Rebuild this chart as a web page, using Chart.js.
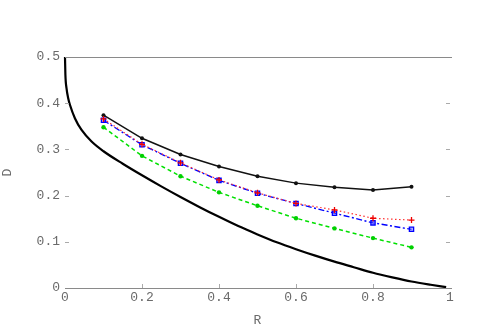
<!DOCTYPE html>
<html>
<head>
<meta charset="utf-8">
<script src="https://cdn.jsdelivr.net/npm/chart.js@4/dist/chart.umd.min.js"></script>
<style>
  html, body { margin: 0; padding: 0; background: #fff; }
  #wrap { width: 498px; height: 335px; position: relative; }
</style>
</head>
<body>
<div id="wrap"><canvas id="c" width="498" height="335"></canvas></div>
<script>
// ---- data ----
const R = [0.1, 0.2, 0.3, 0.4, 0.5, 0.6, 0.7, 0.8, 0.9];
const dBlack = [0.374, 0.324, 0.289, 0.263, 0.242, 0.227, 0.218, 0.212, 0.219];
const dRed   = [0.366, 0.311, 0.271, 0.234, 0.206, 0.183, 0.169, 0.151, 0.147];
const dBlue  = [0.363, 0.310, 0.270, 0.233, 0.205, 0.183, 0.162, 0.141, 0.127];
const dGreen = [0.348, 0.286, 0.242, 0.207, 0.178, 0.151, 0.129, 0.108, 0.088];

const curveR = [0, 0.001, 0.004, 0.008, 0.013, 0.026, 0.043, 0.069, 0.1, 0.15, 0.2, 0.25, 0.3, 0.35, 0.4, 0.45, 0.5, 0.55, 0.6, 0.65, 0.7, 0.75, 0.8, 0.85, 0.9, 0.95, 0.99];
const curveD = [0.5, 0.462, 0.432, 0.412, 0.396, 0.367, 0.342, 0.317, 0.296, 0.269, 0.244, 0.220, 0.197, 0.175, 0.154, 0.134, 0.116, 0.099, 0.084, 0.070, 0.057, 0.045, 0.033, 0.023, 0.014, 0.007, 0.002];

const xTicks = [0, 0.2, 0.4, 0.6, 0.8, 1];
const yTicks = [0, 0.1, 0.2, 0.3, 0.4, 0.5];
const xTitle = 'R';
const yTitle = 'D';

const pts = (xs, ys) => xs.map((x, i) => ({ x: x, y: ys[i] }));

const FONT = { family: '"Liberation Mono", "DejaVu Sans Mono", monospace', size: 13 };
const TXT = '#6a6a6a';
const AXIS = '#8a8a8a';

const frame = {
  id: 'frame',
  afterDatasetsDraw(chart) {
    const { ctx, chartArea: a, scales } = chart;
    ctx.save();
    ctx.strokeStyle = AXIS;
    ctx.lineWidth = 1;
    ctx.beginPath();
    ctx.moveTo(a.left, Math.round(a.top) + 0.5); ctx.lineTo(a.right + 2, Math.round(a.top) + 0.5);
    ctx.moveTo(a.left, Math.round(a.bottom) + 0.5); ctx.lineTo(a.right + 2, Math.round(a.bottom) + 0.5);
    ctx.stroke();
    ctx.strokeStyle = '#aaa';
    ctx.beginPath();
    yTicks.slice(1, -1).forEach(v => {
      const y = Math.round(scales.y.getPixelForValue(v)) + 0.5;
      ctx.moveTo(a.left, y); ctx.lineTo(a.left + 4, y);
      ctx.moveTo(a.right - 4, y); ctx.lineTo(a.right, y);
    });
    xTicks.slice(1, -1).forEach(v => {
      const x = Math.round(scales.x.getPixelForValue(v)) + 0.5;
      ctx.moveTo(x, a.bottom); ctx.lineTo(x, a.bottom - 4);
    });
    ctx.stroke();
    ctx.restore();
  }
};

new Chart(document.getElementById('c'), {
  type: 'line',
  data: {
    datasets: [
      { label: 'red', data: pts(R, dRed), borderColor: '#ff3030', borderWidth: 1.2, borderDash: [1.5, 2.5],
        pointStyle: 'cross', pointRadius: 3, pointBorderWidth: 1.3, pointBorderColor: '#ee0000', pointBackgroundColor: '#ee0000', tension: 0 },
      { label: 'blue', data: pts(R, dBlue), borderColor: '#0000ff', borderWidth: 1.4, borderDash: [6, 2.5, 2, 2.5],
        pointStyle: 'rect', pointRadius: 3, pointBorderWidth: 1.3, pointBorderColor: '#0000ff', pointBackgroundColor: 'rgba(90,90,255,0.45)', tension: 0 },
      { label: 'green', data: pts(R, dGreen), borderColor: '#00e000', borderWidth: 1.5, borderDash: [4, 3],
        pointStyle: 'circle', pointRadius: 2.2, pointBorderWidth: 0, pointBackgroundColor: '#00d000', tension: 0 },
      { label: 'black', data: pts(R, dBlack), borderColor: '#111', borderWidth: 1.5,
        pointStyle: 'circle', pointRadius: 2, pointBorderWidth: 0, pointBackgroundColor: '#111', tension: 0 },
      { label: 'bound', data: pts(curveR, curveD), borderColor: '#000', borderWidth: 2.2,
        pointRadius: 0, cubicInterpolationMode: 'monotone', clip: 3 }
    ]
  },
  options: {
    responsive: false,
    animation: false,
    events: [],
    layout: { padding: { top: 57, right: 48, left: 0, bottom: 0 } },
    plugins: { legend: { display: false }, tooltip: { enabled: false } },
    scales: {
      x: {
        type: 'linear', min: 0, max: 1,
        afterBuildTicks: s => { s.ticks = xTicks.map(v => ({ value: v })); },
        afterFit: s => { s.height = 47; },
        grid: { display: false, drawTicks: false },
        border: { display: false },
        ticks: { font: FONT, color: TXT, padding: 2, maxRotation: 0, callback: v => String(v) },
        title: { display: true, text: xTitle, font: FONT, color: TXT, padding: { top: 0, bottom: 7 } }
      },
      y: {
        type: 'linear', min: 0, max: 0.5,
        afterBuildTicks: s => { s.ticks = yTicks.map(v => ({ value: v })); },
        afterFit: s => { s.width = 65; },
        grid: { display: false, drawTicks: false },
        border: { display: false },
        ticks: { font: FONT, color: TXT, padding: 5, callback: v => String(v) },
        title: { display: true, text: yTitle, font: FONT, color: TXT, padding: { top: 0, bottom: 17 } }
      }
    }
  },
  plugins: [frame]
});
</script>
</body>
</html>
